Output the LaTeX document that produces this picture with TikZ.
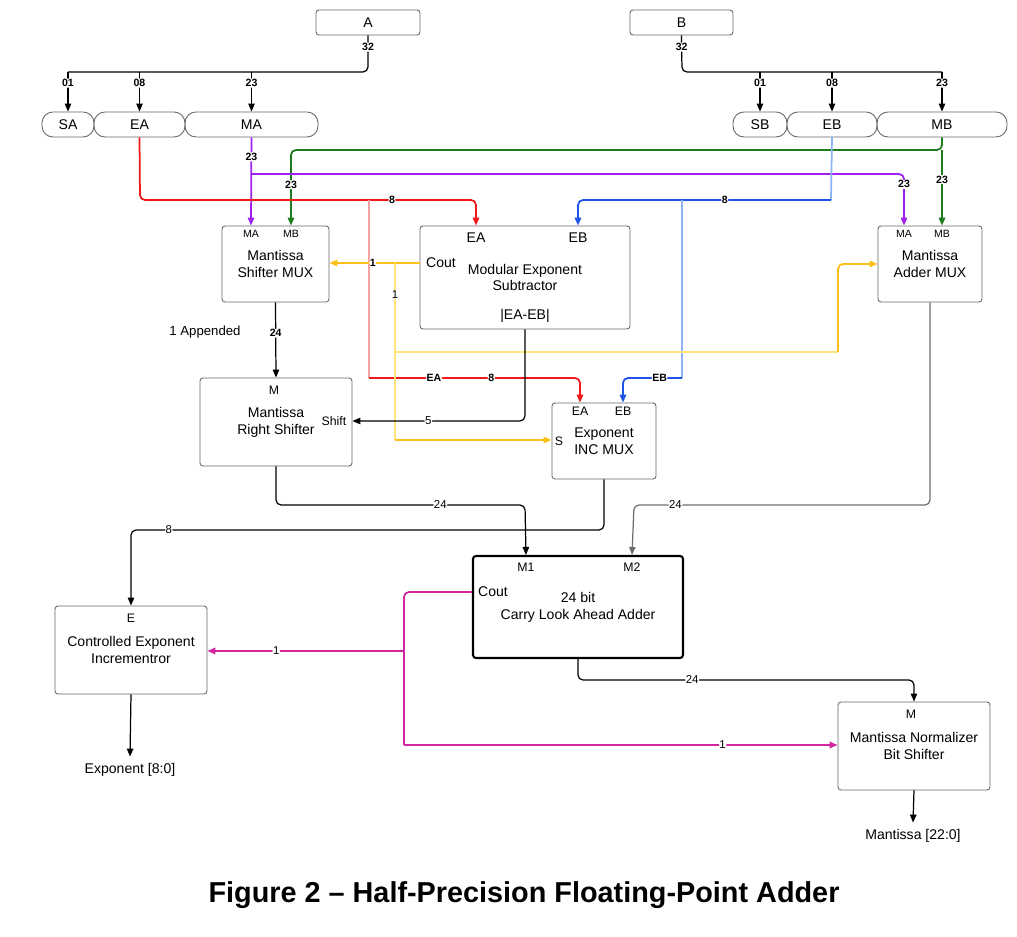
\documentclass[tikz,border=0pt]{standalone}
\usepackage{fontspec}
\setmainfont{Liberation Sans}
\usetikzlibrary{arrows.meta}

\definecolor{wred}{HTML}{F01818}
\definecolor{wredlt}{HTML}{F5A3A3}
\definecolor{wpurple}{HTML}{A020F0}
\definecolor{wgreen}{HTML}{1E7B1E}
\definecolor{wblue}{HTML}{1F55E6}
\definecolor{wbluelt}{HTML}{8DB3F5}
\definecolor{wamber}{HTML}{FFBF1A}
\definecolor{wyellow}{HTML}{FFE47A}
\definecolor{wmag}{HTML}{D3259E}
\definecolor{wgrey}{HTML}{6E6E6E}

\begin{document}
\begin{tikzpicture}[x=0.2mm,y=-0.2mm,>={Triangle[length=1.6mm,width=1.3mm]},
    every node/.style={font=\fontsize{8}{9.6}\selectfont, align=center},
    blk/.style={draw=black!60, rounded corners=0.6mm, line width=0.5pt, inner sep=0pt},
    pill/.style={draw=black!60, rounded corners=2.2mm, line width=0.5pt, minimum height=5mm, inner sep=0pt},
    port/.style={font=\fontsize{6}{7}\selectfont, inner sep=0.5pt},
    portm/.style={font=\fontsize{7}{8}\selectfont, inner sep=0.5pt},
    num/.style={font=\fontsize{6}{7}\selectfont\bfseries, text=black, fill=white, inner sep=0.4pt},
    numr/.style={font=\fontsize{6.5}{7}\selectfont, text=black, fill=white, inner sep=0.4pt},
    wire/.style={line width=0.7pt, rounded corners=1mm},
    cwire/.style={line width=1pt, rounded corners=1mm}]
    \useasboundingbox (0,0) rectangle (1017,937);

    % operands and fields
    \node[blk, minimum width=20.8mm, minimum height=5mm] (a) at (368,22.5) {A};
    \node[blk, minimum width=20.6mm, minimum height=5mm] (b) at (681.5,22.5) {B};
    \node[pill, minimum width=10.4mm] (sa) at (68,124.5) {SA};
    \node[pill, minimum width=18.2mm] (ea) at (139.5,124.5) {EA};
    \node[pill, minimum width=26.6mm] (ma) at (251.5,124.5) {MA};
    \node[pill, minimum width=10.8mm] (sb) at (760,124.5) {SB};
    \node[pill, minimum width=18mm] (eb) at (832,124.5) {EB};
    \node[pill, minimum width=26mm] (mb) at (942,124.5) {MB};

    % blocks
    \node[blk, minimum width=21.4mm, minimum height=15.2mm] (shmux) at (275.5,264) {Mantissa\\Shifter MUX};
    \node[blk, minimum width=42mm, minimum height=20.6mm] (sub) at (525,277.5) {Modular Exponent\\Subtractor};
    \node[blk, minimum width=20.8mm, minimum height=15.2mm] (admux) at (930,264) {Mantissa\\Adder MUX};
    \node[blk, minimum width=30.4mm, minimum height=17.6mm] (rsh) at (276,422) {Mantissa\\Right Shifter};
    \node[blk, minimum width=20.8mm, minimum height=15.2mm] (incmux) at (604,441) {Exponent\\INC MUX};
    \node[blk, draw=black, line width=1.2pt, minimum width=42mm, minimum height=20.4mm] (cla) at (578,607) {24 bit\\Carry Look Ahead Adder};
    \node[blk, minimum width=30.4mm, minimum height=17.6mm] (cei) at (131,650) {Controlled Exponent\\Incrementror};
    \node[blk, minimum width=30.4mm, minimum height=17.6mm] (norm) at (914,746) {Mantissa Normalizer\\Bit Shifter};

    % ports
    \node[port] (shma) at (251,234) {MA};
    \node[port] (shmb) at (291,234) {MB};
    \node[inner sep=0.5pt] (subea) at (476,238) {EA};
    \node[inner sep=0.5pt] (subeb) at (578,238) {EB};
    \node[inner sep=0.5pt] (subcout) at (441,263) {Cout};
    \node (subdiff) at (525,316) {|EA-EB|};
    \node[port] (adma) at (904,234) {MA};
    \node[port] (admb) at (942,234) {MB};
    \node[portm] (rshm) at (274,390) {M};
    \node[portm] (rshshift) at (334,421) {Shift};
    \node[portm] (incea) at (580,411) {EA};
    \node[portm] (inceb) at (623,411) {EB};
    \node[portm] (incsel) at (559,441) {S};
    \node[portm] (clam1) at (526,567) {M1};
    \node[portm] (clam2) at (632,567) {M2};
    \node[inner sep=0.5pt] (clacout) at (493,592) {Cout};
    \node[portm] (ceie) at (131,618) {E};
    \node[portm] (normm) at (911,714) {M};

    \node[font=\fontsize{7.5}{9}\selectfont] (appended) at (205,332) {1 Appended};
    \node[inner sep=1.3mm] (expout) at (130,770) {Exponent [8:0]};
    \node[inner sep=1.3mm] (manout) at (913,836) {Mantissa [22:0]};
    \node[font=\fontsize{16.4}{18}\selectfont\bfseries] (caption) at (524,895) {Figure 2 – Half-Precision Floating-Point Adder};

    % splitting A and B
    \coordinate (abus) at (368,72);
    \coordinate (bbus) at (682,72);
    \draw[wire] (a.south) -- node[num,pos=0.32]{32} (abus) -- (abus -| sa.north);
    \draw[wire] (b.south) -- node[num,pos=0.32]{32} (bbus) -- (bbus -| mb.north);
    \foreach \n/\w in {sa/01, ea/08, ma/23, sb/01, eb/08, mb/23}
        \draw[wire,->] (abus -| \n.north) -- node[num,pos=0.28]{\w} (\n.north);

    % mantissas
    \coordinate (gsplit) at (942,150);
    \draw[cwire,wgreen,->] (mb.south) -- (gsplit) -| node[num,pos=0.73]{23} (shmux.north -| shmb);
    \draw[cwire,wgreen,->] (gsplit) -- node[num,pos=0.39]{23} (admux.north -| admb);
    \coordinate (psplit) at (251,174);
    \draw[cwire,wpurple,->] (ma.south) -- node[num,pos=0.22]{23} (shmux.north -| shma);
    \draw[cwire,wpurple,->] (psplit) -| node[num,pos=0.6]{23} (admux.north -| adma);

    % exponents
    \coordinate (rbus) at (140,200);
    \coordinate (rsplit) at (369,200);
    \coordinate (rturn) at (369,378);
    \draw[cwire,wred,->] (ea.south) -- (rbus) -| node[num,pos=0.375]{8} (sub.north -| subea);
    \draw[cwire,wredlt] (rsplit) -- (rturn);
    \draw[cwire,wred,->] (rturn) -| node[num,pos=0.154]{EA} node[num,pos=0.29]{8} (incmux.north -| incea);
    \coordinate (bbus2) at (831,200);
    \coordinate (bsplit) at (682,200);
    \coordinate (bturn) at (682,378);
    \draw[cwire,wbluelt] (eb.south) -- (bbus2);
    \draw[cwire,wblue,->] (bbus2) -| node[num,pos=0.21]{8} (sub.north -| subeb);
    \draw[cwire,wbluelt] (bsplit) -- (bturn);
    \draw[cwire,wblue,->] (bturn) -| node[num,pos=0.19]{EB} (incmux.north -| inceb);

    % carry out of subtractor
    \coordinate (ysplit) at (395,263);
    \coordinate (ymid) at (395,352);
    \coordinate (yturn) at (395,440);
    \coordinate (yright) at (838,352);
    \draw[cwire,wamber,->] (subcout -| sub.west) -- node[num,pos=0.52]{1} (shmux.east |- subcout);
    \draw[cwire,wyellow] (ysplit) -- node[numr,pos=0.18]{1} (yturn);
    \draw[cwire,wamber,->] (yturn) -- (incmux.west |- yturn);
    \draw[cwire,wyellow] (ymid) -- (yright);
    \draw[cwire,wamber,->] (yright) |- (admux.west);

    % shifting
    \draw[wire,->] (shmux.south) -- node[num,pos=0.41]{24} (rsh.north);
    \draw[wire,->] (sub.south) |- node[numr,pos=0.78]{5} (rsh.east |- rshshift);

    % adder inputs
    \coordinate (m1bus) at (525,505);
    \coordinate (m2bus) at (634,505);
    \coordinate (ebus) at (131,530);
    \draw[wire,->] (rsh.south) |- node[numr,pos=0.83]{24} (m1bus) -- (cla.north -| clam1);
    \draw[wire,wgrey,->] (admux.south) |- node[numr,pos=0.93]{24} (m2bus) -- (cla.north -| clam2);
    \draw[wire,->] (incmux.south) |- node[numr,pos=0.96]{8} (ebus) -- (cei.north);

    % carry out of adder
    \coordinate (mbot) at (404,745);
    \coordinate (msplit) at (404,651);
    \draw[cwire,wmag] (clacout -| cla.west) -| (mbot);
    \draw[cwire,wmag,->] (mbot) -- node[numr,pos=0.735]{1} (norm.west |- mbot);
    \draw[cwire,wmag,->] (msplit) -- node[numr,pos=0.65]{1} (cei.east |- msplit);

    % outputs
    \coordinate (nbus) at (914,680);
    \draw[wire,->] (cla.south) |- node[numr,pos=0.67]{24} (nbus) -- (norm.north);
    \draw[wire,->] (norm.south) -- (manout.north);
    \draw[wire,->] (cei.south) -- (expout.north);
\end{tikzpicture}
\end{document}
